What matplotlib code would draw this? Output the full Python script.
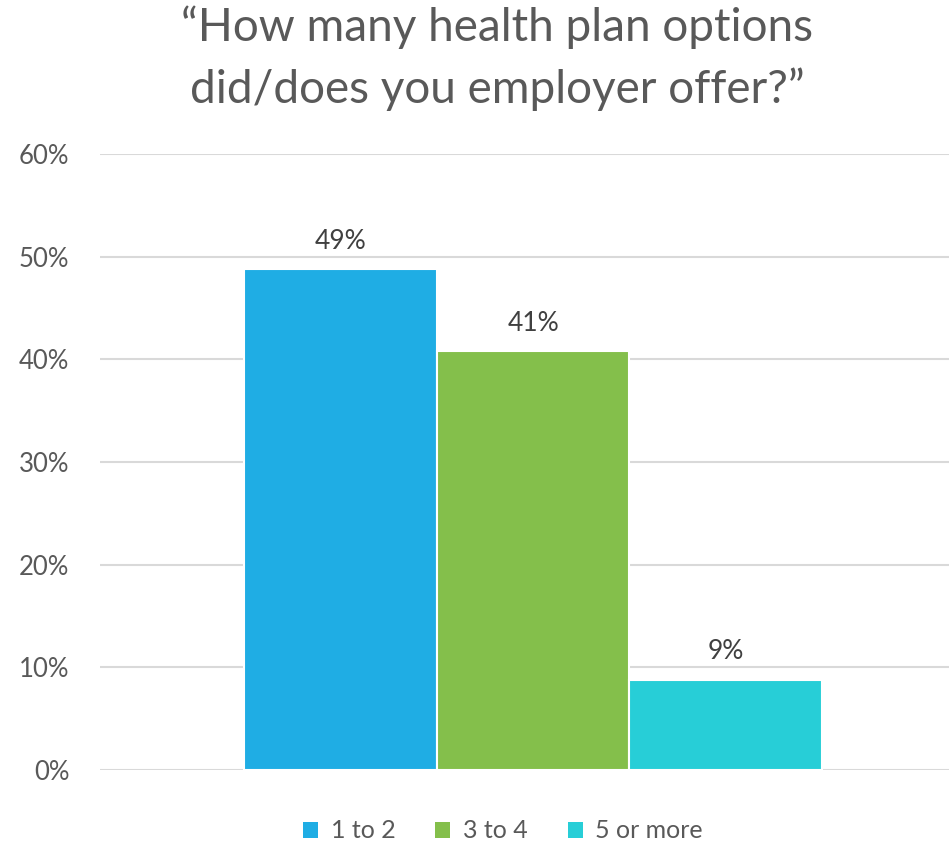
import matplotlib
matplotlib.use("Agg")
import matplotlib.pyplot as plt
from matplotlib.patches import Patch

# Survey responses: number of health plan options offered by employer
categories = ["1 to 2", "3 to 4", "5 or more"]
shares = [0.488, 0.408, 0.088]
colors = ["#1FADE4", "#84BF4B", "#27CED7"]
y_ticks = [0.0, 0.1, 0.2, 0.3, 0.4, 0.5, 0.6]
title = "\u201cHow many health plan options\ndid/does you employer offer?\u201d"

TEXT = "#595959"
plt.rcParams["font.family"] = ["Lato", "DejaVu Sans"]

W, H = 949, 843
fig = plt.figure(figsize=(W / 100, H / 100), dpi=100)
ax = fig.add_axes([100 / W, (H - 770) / H, (W - 100) / W, (770 - 154) / H])

positions = list(range(len(categories)))
ax.bar(positions, shares, width=1.0, color=colors, edgecolor="white",
       linewidth=1.5, zorder=3)
for x, v in zip(positions, shares):
    ax.text(x, v + 0.015, f"{v:.0%}", ha="center", va="bottom",
            fontsize=19, color="#404040", zorder=4)

ax.set_xlim(-1.25, 3.16)
ax.set_ylim(0, 0.6)
ax.set_yticks(y_ticks)
ax.set_yticklabels([f"{t:.0%}" for t in y_ticks])
ax.set_xticks([])
ax.tick_params(axis="y", length=0, labelsize=18.5, labelcolor=TEXT, pad=22)
ax.yaxis.grid(True, color="#D9D9D9", linewidth=1.5, zorder=0)
for s in ax.spines.values():
    s.set_visible(False)

fig.text(497 / W, 1 - 5 / H, title, ha="center", va="top", fontsize=33,
         color=TEXT, linespacing=1.52)

handles = [Patch(facecolor=c, edgecolor="none") for c in colors]
fig.legend(handles, categories, loc="center", bbox_to_anchor=(503 / W, 1 - 831 / H),
           ncol=3, frameon=False, fontsize=18, labelcolor=TEXT,
           handlelength=0.6, handleheight=0.6, handletextpad=0.5, columnspacing=1.6)

fig.savefig("out.png", dpi=100, facecolor="white")
